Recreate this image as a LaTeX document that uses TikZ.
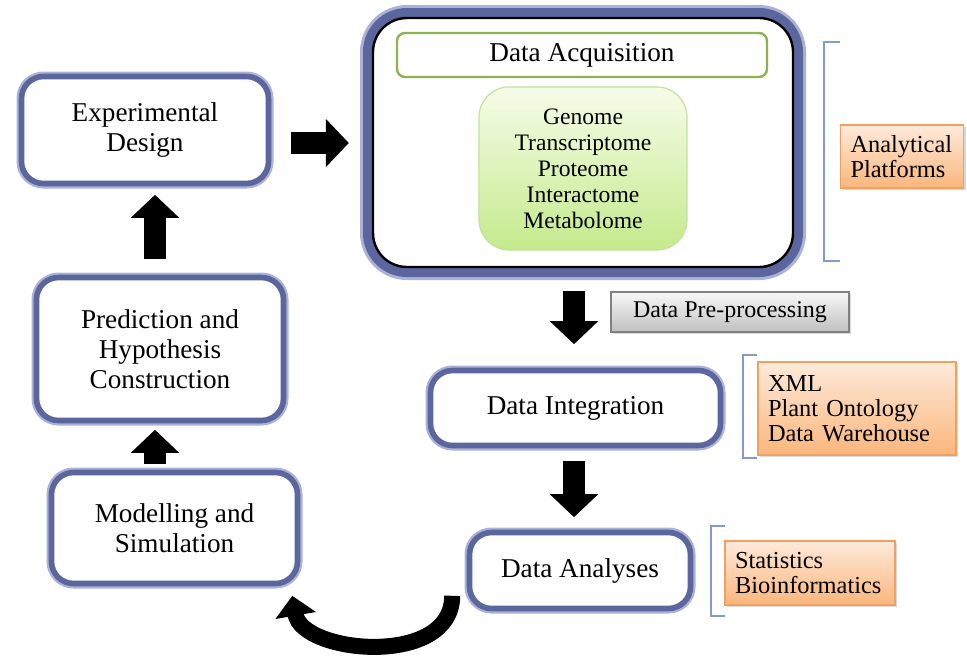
\documentclass[tikz,border=0pt]{standalone}
\usepackage{fontspec}
\setmainfont{Liberation Serif}
\usetikzlibrary{arrows.meta,shadows,positioning}
\definecolor{stageblue}{RGB}{92,102,158}
\definecolor{stageglow}{RGB}{170,178,214}
\definecolor{acqgreen}{RGB}{140,178,84}
\definecolor{omicsborder}{RGB}{196,226,156}
\definecolor{omicstop}{RGB}{246,252,232}
\definecolor{omicsbot}{RGB}{196,234,140}
\definecolor{toolborder}{RGB}{240,160,96}
\definecolor{tooltop}{RGB}{253,234,218}
\definecolor{toolbot}{RGB}{251,182,124}
\definecolor{pretop}{RGB}{248,248,248}
\definecolor{prebot}{RGB}{192,192,192}
\definecolor{bracketblue}{RGB}{130,155,200}

\tikzset{
  stage/.style={draw=stageblue, line width=2.8pt, rounded corners=11pt, fill=white,
    preaction={draw=stageglow, line width=5pt}, inner sep=0pt, align=center,
    font=\fontsize{13.6}{15}\selectfont},
  tool/.style={draw=toolborder, line width=0.6pt, top color=tooltop, bottom color=toolbot,
    inner xsep=5pt, inner ysep=0pt, align=left,
    drop shadow={shadow xshift=1pt, shadow yshift=-1.2pt, opacity=0.3},
    font=\fontsize{12.2}{12.6}\selectfont},
  flow/.style={line width=11pt, -{Triangle[width=23.5pt,length=11.5pt]}},
  bracket/.style={draw=bracketblue, line width=0.6pt},
}

\begin{document}
\begin{tikzpicture}[x=0.5pt, y=0.5pt]
        \useasboundingbox (0,0) rectangle (967,-659);

        \node (acq) at (583,-142.5) [fill=white, draw=black, line width=1.2pt, rounded corners=17pt,
                preaction={draw=stageglow, line width=13pt}, preaction={draw=stageblue, line width=10pt},
                minimum width=210pt, minimum height=124.5pt] {};
        \node (acqtitle) at (582,-55) [draw=acqgreen, line width=1.2pt, rounded corners=4pt,
                minimum width=185pt, minimum height=22pt, inner sep=0pt,
                font=\fontsize{13.6}{15}\selectfont] {Data Acquisition};
        \node (omics) at (583,-168.5) [draw=omicsborder, line width=0.6pt, rounded corners=15pt,
                top color=omicstop, bottom color=omicsbot, align=center, inner sep=0pt,
                minimum width=104pt, minimum height=81.5pt,
                font=\fontsize{11.8}{13}\selectfont] {Genome\\Transcriptome\\Proteome\\Interactome\\Metabolome};

        \node (ed) at (145,-130) [stage, minimum width=123.5pt, minimum height=53.5pt] {Experimental\\Design};
        \node (pred) at (160,-349) [stage, minimum width=123.5pt, minimum height=71.5pt] {Prediction and\\Hypothesis\\Construction};
        \node (mod) at (174.5,-528) [stage, minimum width=123pt, minimum height=55.5pt] {Modelling and\\Simulation};
        \node (dint) at (575.5,-408) [stage, minimum width=145pt, minimum height=37.5pt] {Data Integration};
        \node (dan) at (580,-570.5) [stage, minimum width=110.5pt, minimum height=38pt] {Data Analyses};

        \node (plat) at (902,-156.5) [tool, text width=51.5pt, minimum height=31.5pt] {Analytical\\Platforms};
        \node (xml) at (857,-408.5) [tool, text width=89pt, minimum height=46.5pt] {XML\\Plant Ontology\\Data Warehouse};
        \node (stats) at (810,-573) [tool, text width=75pt, minimum height=32pt] {Statistics\\Bioinformatics};
        \node (pre) at (730,-312) [draw=gray, line width=0.6pt, top color=pretop, bottom color=prebot,
                drop shadow={shadow xshift=1pt, shadow yshift=-1.2pt, opacity=0.3},
                minimum width=119pt, minimum height=20pt, inner sep=0pt,
                font=\fontsize{12}{13}\selectfont] {Data Pre-processing};

        \draw[bracket] (840,-42) -| (824,-261) -- (840,-261);
        \draw[bracket] (757,-355) -| (743,-458) -- (757,-458);
        \draw[bracket] (725,-526) -| (711,-616) -- (725,-616);

        \draw[flow] ([xshift=9.75pt,yshift=-6.5pt]ed.east) -- ([xshift=-11.5pt,yshift=-0.25pt]acq.west);
        \draw[flow] ([xshift=-4.5pt,yshift=-11.5pt]acq.south) -- ([xshift=-0.75pt,yshift=11.75pt]dint.north);
        \draw[flow] ([xshift=-0.75pt,yshift=-6.25pt]dint.south) -- ([xshift=-3pt,yshift=6.25pt]dan.north);
        \draw[line width=8pt, -{Triangle[width=20pt,length=10pt]}]
                ([xshift=-7.25pt,yshift=7.75pt]dan.south west) .. controls +(0,-72) and +(10,-58) .. ([xshift=-4pt,yshift=-4.75pt]mod.south east);
        \draw[flow] ([xshift=-9.75pt,yshift=2.75pt]mod.north) -- ([xshift=-2.5pt,yshift=-3.25pt]pred.south);
        \draw[flow] ([xshift=-2.5pt,yshift=7.75pt]pred.north) -- ([xshift=5pt,yshift=-4.25pt]ed.south);
\end{tikzpicture}
\end{document}
